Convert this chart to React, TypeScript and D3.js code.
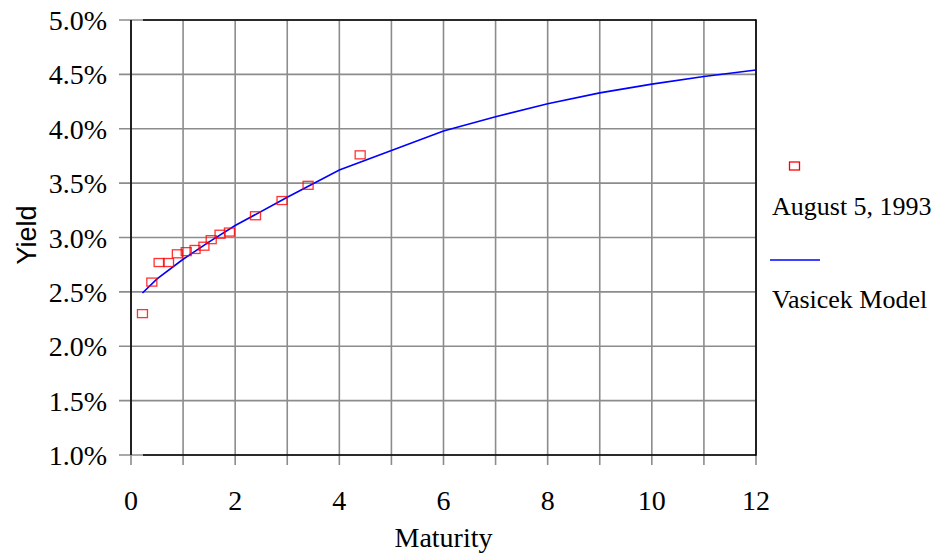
import React from "react";
import * as d3 from "d3";

const obsMaturity = [0.22, 0.4, 0.54, 0.72, 0.89, 1.06, 1.23, 1.4, 1.54, 1.71, 1.89, 2.39, 2.9, 3.4, 4.4];
const obsYield = [2.3, 2.59, 2.77, 2.77, 2.85, 2.87, 2.89, 2.92, 2.98, 3.03, 3.05, 3.2, 3.34, 3.48, 3.76];

const modelMaturity = [0.22, 0.5, 1, 1.5, 2, 3, 4, 5, 6, 7, 8, 9, 10, 11, 12];
const modelYield = [2.49, 2.62, 2.8, 2.96, 3.11, 3.37, 3.62, 3.8, 3.98, 4.11, 4.23, 4.33, 4.41, 4.48, 4.54];

const xTicks = [0, 2, 4, 6, 8, 10, 12];
const xGrid = [0, 1, 2, 3, 4, 5, 6, 7, 8, 9, 10, 11, 12];
const yTicks = [1.0, 1.5, 2.0, 2.5, 3.0, 3.5, 4.0, 4.5, 5.0];

const legendLabels = ["August 5, 1993", "Vasicek Model"];

export default function App() {
  const W = 941, H = 555;
  const left = 131, right = 756, top = 20, bottom = 455;
  const x = d3.scaleLinear().domain([0, 12]).range([left, right]);
  const y = d3.scaleLinear().domain([1, 5]).range([bottom, top]);
  const line = d3.line<number>().x((_, i) => x(modelMaturity[i])).y((d) => y(d));
  const serifFamily = '"Liberation Serif", "Times New Roman", Times, Tinos, "Nimbus Roman", "DejaVu Serif", "Noto Serif", serif';
  const sansFamily = '"Liberation Sans", Arial, Helvetica, sans-serif';
  return (
    <svg width={W} height={H} style={{ position: "absolute", left: 0, top: 0 }}>
      <rect x={0} y={0} width={W} height={H} fill="#fff" />
      {xGrid.map((v) => (
        <line key={"gx" + v} x1={x(v)} x2={x(v)} y1={top} y2={bottom + 10} stroke="#8c8c8c" strokeWidth={1.6} />
      ))}
      {yTicks.map((v) => (
        <line key={"gy" + v} x1={left - 12} x2={right} y1={y(v)} y2={y(v)} stroke="#8c8c8c" strokeWidth={1.6} />
      ))}
      <line x1={left} x2={left} y1={top} y2={bottom} stroke="#000" strokeWidth={1.6} />
      <line x1={right} x2={right} y1={top - 0.8} y2={bottom + 0.8} stroke="#000" strokeWidth={1.6} />
      <line x1={left + 12} x2={right} y1={top} y2={top} stroke="#000" strokeWidth={1.6} />
      <line x1={left + 12} x2={right} y1={bottom} y2={bottom} stroke="#000" strokeWidth={1.6} />
      <g fontFamily={serifFamily} fill="#000">
        {yTicks.map((v) => (
          <text key={"ty" + v} x={107} y={y(v) + 10} textAnchor="end" fontSize={28}>
            {v.toFixed(1) + "%"}
          </text>
        ))}
        {xTicks.map((v) => (
          <text key={"tx" + v} x={x(v)} y={510} textAnchor="middle" fontSize={28}>
            {v}
          </text>
        ))}
        <text x={x(6)} y={547} textAnchor="middle" fontSize={28}>Maturity</text>
        <text x={772} y={215} fontSize={26}>{legendLabels[0]}</text>
        <text x={772} y={308} fontSize={26}>{legendLabels[1]}</text>
      </g>
      <text transform={`translate(36, ${235}) rotate(-90)`} textAnchor="middle" fontFamily={sansFamily} fontSize={27} fill="#000">Yield</text>
      <path d={line(modelYield) || ""} fill="none" stroke="#0000ff" strokeWidth={1.6} />
      {obsYield.map((v, i) => (
        <rect key={"p" + i} x={x(obsMaturity[i]) - 5} y={y(v) - 4} width={10} height={8} fill="none" stroke="#ff0000" strokeOpacity={0.8} strokeWidth={1.3} />
      ))}
      <rect x={789.5} y={162} width={10} height={8} fill="none" stroke="#ff0000" strokeWidth={1.3} />
      <line x1={770} x2={820} y1={260} y2={260} stroke="#0000ff" strokeWidth={1.6} />
    </svg>
  );
}
